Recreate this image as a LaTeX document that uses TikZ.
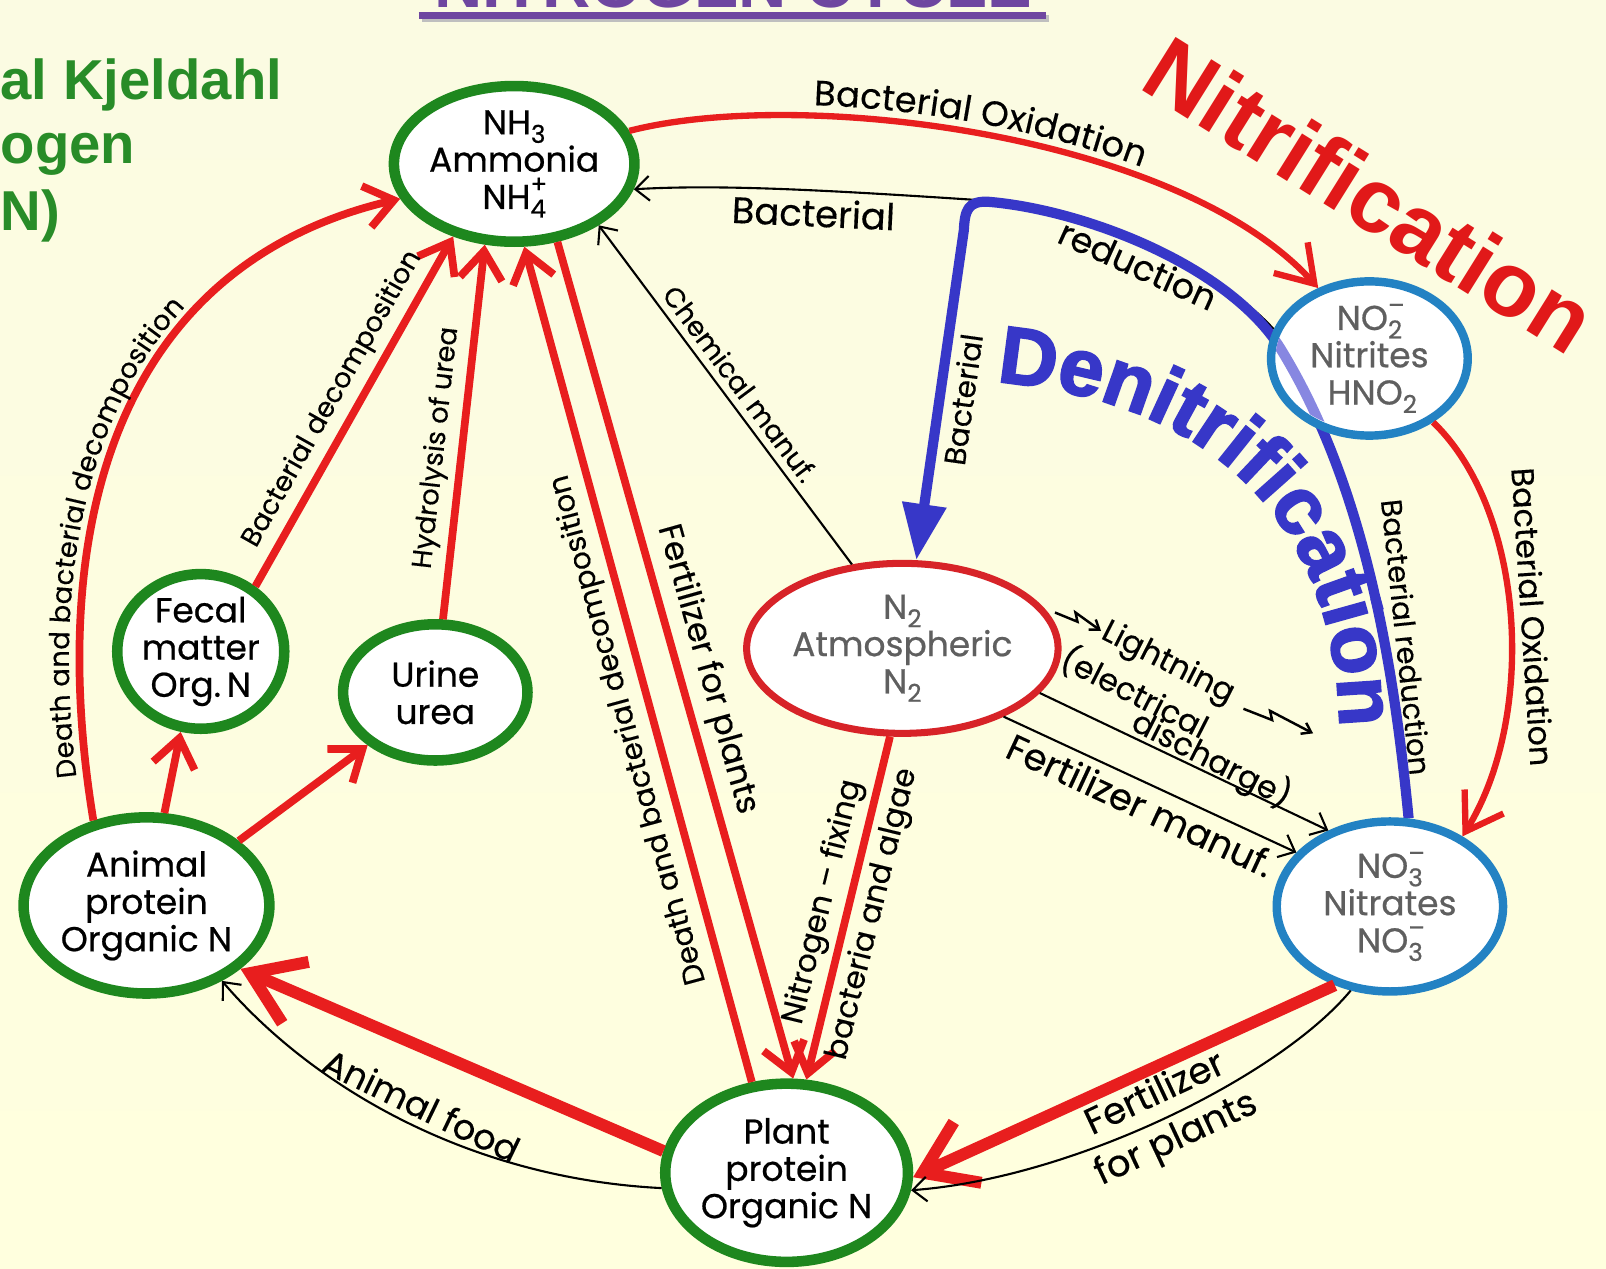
\documentclass[tikz,border=0pt]{standalone}
\usepackage{fontspec}
\usetikzlibrary{shapes.geometric,arrows.meta,decorations.text,backgrounds,calc}

\newfontfamily\geofont[FakeBold=0.35]{Poppins}
\newfontfamily\geonode[FakeBold=0.6]{Poppins}
\newfontfamily\arialfont{Liberation Sans}
\newfontfamily\denifam[FakeBold=2.5]{Liberation Sans Bold}

\definecolor{grn}{RGB}{30,135,30}
\definecolor{ared}{RGB}{232,30,30}
\definecolor{nred}{RGB}{215,35,40}
\definecolor{nitred}{RGB}{225,25,25}
\definecolor{nblue}{RGB}{35,130,195}
\definecolor{dblue}{RGB}{55,55,200}
\definecolor{lblue}{RGB}{135,135,225}
\definecolor{txtgray}{RGB}{95,95,95}
\definecolor{tkngreen}{RGB}{40,140,40}
\definecolor{ttl}{RGB}{110,70,160}
\definecolor{bgtop}{RGB}{251,251,226}
\definecolor{bgbot}{RGB}{255,255,222}

\newcommand\pxu{0.010242cm}
\newcommand\nodefont{\geonode\fontsize{9.8}{10.6}\selectfont}
\newcommand\lblfont{\geofont\fontsize{7.8}{9}\selectfont}
\newcommand\lblat[2]{\geofont\fontsize{#1}{#2}\selectfont}
\newcommand\tknfont{\arialfont\bfseries\fontsize{16}{19}\selectfont}
\newcommand\titlefont{\arialfont\bfseries\fontsize{19}{22}\selectfont}
\newcommand\nitfont{\arialfont\bfseries\fontsize{26}{30}\selectfont}
\newcommand\denifont{\denifam\fontsize{23}{26}\selectfont}
\newcommand\chsub[1]{\raisebox{-0.45ex}{\fontsize{7}{7}\selectfont #1}}
\newcommand\chion[2]{\makebox[0pt][l]{\raisebox{0.85ex}{\fontsize{7}{7}\selectfont #2}}\raisebox{-0.45ex}{\fontsize{7}{7}\selectfont #1}}

\begin{document}
\begin{tikzpicture}[x=0.010242cm, y=-0.010242cm]
	\tikzset{pool/.style={ellipse, draw, fill=white, inner sep=0pt, align=center, font=\nodefont},
		greenpool/.style={pool, draw=grn, line width=3pt},
		bluepool/.style={pool, draw=nblue, line width=2.4pt, text=txtgray},
		redpool/.style={pool, draw=nred, line width=2pt, text=txtgray},
		redarr/.style={draw=ared, line width=2.2pt, -{Straight Barb[length=8pt,width=12pt]}},
		redthick/.style={draw=ared, line width=3.4pt, -{Straight Barb[length=14pt,width=19pt]}},
		redcurve/.style={draw=ared, line width=1.8pt, -{Straight Barb[length=10pt,width=13pt]}},
		blackarr/.style={draw=black, line width=0.6pt, -{Straight Barb[length=4pt,width=7pt]}},
		denit/.style={draw=dblue, line width=2.9pt, -{Triangle[length=16pt,width=12pt]}},
		lbl/.style={font=\lblfont, inner sep=2pt},
		tkn/.style={font=\tknfont, text=tkngreen, inner sep=0pt},
		bolt/.style={line width=0.7pt, -{Straight Barb[length=2.5pt,width=3.5pt]}}}

	\begin{scope}[on background layer]
		\shade[top color=bgtop, middle color=white, bottom color=bgbot] (0,0) rectangle (1568,1238);
	\end{scope}
	\useasboundingbox (0,0) rectangle (1568,1238);

	%% headings
	\node[font=\titlefont, text=ttl, anchor=base, inner sep=0pt] (title) at (716,7) {NITROGEN CYCLE};
	\draw[gray!50, line width=2pt] (412,18) -- (1024,18);
	\draw[ttl, line width=2pt] (409,15) -- (1021,15);
	\node[tkn, anchor=base west] (tknA) at (0,97) {al Kjeldahl};
	\node[tkn, anchor=base west] (tknB) at (0,160) {ogen};
	\node[tkn, anchor=base west] (tknC) at (0,225) {N)};
	\node[font=\nitfont, text=nitred, rotate=-32] (nitri) at (1338,190) {Nitrification};

	%% pools
	\node[greenpool, minimum width=227*\pxu, minimum height=152*\pxu] (NH3) at (502,160) {NH\chsub{3}\\Ammonia\\NH\chion{4}{+}};
	\node[bluepool, minimum width=192*\pxu, minimum height=148*\pxu] (NO2) at (1337,350) {NO\chion{2}{–}\\Nitrites\\\,HNO\chsub{2}};
	\node[bluepool, minimum width=221*\pxu, minimum height=166*\pxu] (NO3) at (1357,885) {NO\chion{3}{–}\\Nitrates\\NO\chion{3}{–}};
	\node[redpool, minimum width=235*\pxu, minimum height=166*\pxu] (N2) at (881,633) {N\chsub{2}\\Atmospheric\\N\chsub{2}};
	\node[greenpool, minimum width=163*\pxu, minimum height=117*\pxu] (fecal) at (196,636) {Fecal\\matter\\Org.\,N};
	\node[greenpool, minimum width=180*\pxu, minimum height=133*\pxu] (urine) at (425,676) {Urine\\urea};
	\node[greenpool, minimum width=240*\pxu, minimum height=172*\pxu] (animal) at (143,884) {Animal\\protein\\Organic N};
	\node[greenpool, minimum width=237*\pxu, minimum height=174*\pxu] (plant) at (768,1145) {Plant\\protein\\Organic N};

	%% denitrification, under the pools
	\begin{scope}[on background layer]
		\draw[blackarr] (NO2.163) .. controls (1190,262) and (1060,203) .. (965,196)
			node[lbl, font=\lblat{10}{12}, sloped, below, pos=0.5] (lred) {reduction}
			.. controls (800,185) and (700,180) .. (NH3.-12)
			node[lbl, font=\lblat{10.5}{12}, sloped, below, pos=0.4] (lbac) {Bacterial};
		\draw[denit] (NO3.78) .. controls (1360,640) and (1330,470) .. (1250,340)
			.. controls (1200,260) and (1060,205) .. (965,197)
			.. controls (945,196) and (942,205) .. (941,225) -- (N2.81);
	\end{scope}
	\begin{scope}
		\clip (NO2.center) ellipse [x radius=0.94cm, y radius=0.72cm];
		\draw[draw=lblue, line width=2.9pt] (NO3.78) .. controls (1360,640) and (1330,470) .. (1250,340)
			.. controls (1200,260) and (1060,205) .. (965,197);
	\end{scope}
	\node[lbl, font=\lblat{8.5}{10}, rotate=82] (lbacN) at (940,390) {Bacterial};
	\node[lbl, font=\lblat{8.3}{10}, rotate=-84] (lbacR) at (1373,622) {Bacterial reduction};
	\path[decorate, decoration={text along path, text align=center, text color=dblue,
		text={|\denifont|Denitrification}}] (958,372) .. controls (1135,382) and (1310,470) .. (1308,725);

	%% nitrification
	\draw[redcurve] (NH3.16) .. controls (780,85) and (1150,130) .. (NO2.126);
	\path[decorate, decoration={text along path, raise=3pt, text align={left indent=1.85cm},
		text={|\lblat{10}{12}|Bacterial Oxidation}}] (NH3.16) .. controls (780,85) and (1150,130) .. (NO2.126);
	\draw[redcurve] (NO2.315) .. controls (1490,500) and (1500,700) .. (NO3.44)
		node[lbl, font=\lblat{9}{10}, sloped, above, pos=0.5] (loxi) {Bacterial Oxidation};

	%% back to ammonia
	\draw[redarr] (animal.122) .. controls (45,520) and (110,260) .. (NH3.197);
	\path[decorate, decoration={text along path, raise=3pt, text align={left indent=0.45cm},
		text={|\lblfont|Death and bacterial decomposition}}] (animal.122) .. controls (45,520) and (110,260) .. (NH3.197);
	\draw[redarr] (animal.79) -- (fecal.256);
	\draw[redarr] (animal.35) -- (urine.218);
	\draw[redarr] (fecal.50) -- (NH3.230) node[lbl, sloped, above, midway] (ldec) {Bacterial decomposition};
	\draw[redarr] (urine.84) -- (NH3.250) node[lbl, sloped, above, pos=0.45] (lhyd) {Hydrolysis of urea};
	\draw[redarr] (plant.111) -- (NH3.277) node[lbl, font=\lblat{8.4}{10}, sloped, allow upside down, above, pos=0.43] (ldeath) {Death and bacterial decomposition};
	\draw[redarr] (NH3.299) -- (plant.86) node[lbl, font=\lblat{9.4}{10}, sloped, above, pos=0.52] (lfert) {Fertilizer for plants};
	\draw[blackarr] (N2.121) -- (NH3.324) node[lbl, sloped, above, midway] (lchem) {Chemical manuf.};

	%% feeding the plants and animals
	\draw[redarr] (N2.262) -- (plant.78) node[lbl, sloped, midway, align=center, font=\lblat{8.8}{14.5}] (lfix) {Nitrogen – fixing\\bacteria and algae};
	\draw[redthick] (plant.170) -- (animal.326);
	\draw[blackarr] (plant.187) .. controls (450,1150) and (300,1055) .. (animal.315)
		node[lbl, font=\lblat{10}{12}, sloped, above, pos=0.47] (lfood) {Animal food};
	\draw[redthick] (NO3.235) -- (plant.358);
	\draw[blackarr] (NO3.245) .. controls (1250,1050) and (1050,1150) .. (plant.352)
		node[lbl, sloped, pos=0.5, align=center, font=\lblat{10.5}{14}] (lfp) {Fertilizer\\for plants};

	%% atmospheric to nitrate
	\draw[blackarr] (N2.342) -- (NO3.129);
	\draw[blackarr] (N2.326) -- (NO3.150) node[lbl, font=\lblat{10.5}{12}, sloped, below, midway] (lfm) {Fertilizer manuf.};
	\node[lbl, font=\lblat{9}{10}, rotate=-27] (llig) at (1140,648) {Lightning};
	\node[lbl, font=\lblat{9}{10}, rotate=-27] (lele) at (1108,676) {(electrical};
	\node[lbl, font=\lblat{9}{10}, rotate=-27] (ldis) at (1183,741) {discharge)};
	\draw[bolt] (1030,598) -- (1052,607) -- (1050,598) -- (1075,616);
	\draw[bolt] (1214,692) -- (1242,703) -- (1240,694) -- (1282,716);
\end{tikzpicture}
\end{document}
